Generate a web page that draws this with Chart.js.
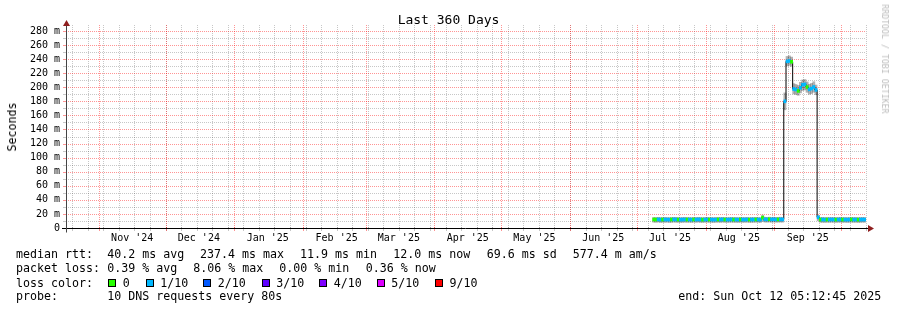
<!DOCTYPE html>
<html>
<head>
<meta charset="utf-8">
<script src="https://cdn.jsdelivr.net/npm/chart.js@4.4.1/dist/chart.umd.min.js"></script>
<style>
html,body{margin:0;padding:0;background:#fff;}
#wrap{position:relative;width:897px;height:310px;overflow:hidden;font-family:"DejaVu Sans Mono",monospace;color:#000;background:#fff;}
#c{position:absolute;left:0;top:0;}
.t{position:absolute;white-space:pre;font-size:11.63px;line-height:14px;}
.sw{position:absolute;width:8px;height:8px;box-sizing:border-box;border:1px solid #000;}
#title{position:absolute;left:0;width:897px;top:11.8px;text-align:center;font-size:13px;line-height:16px;white-space:pre;}
#ytitle{position:absolute;left:11.5px;top:127px;transform:translate(-50%,-50%) rotate(-90deg);font-size:11.63px;line-height:14px;white-space:pre;}
#wm{position:absolute;left:885px;top:59px;transform:translate(-50%,-50%) rotate(90deg);font-size:8.25px;line-height:10px;color:#bdbdbd;white-space:pre;}
</style>
</head>
<body>
<div id="wrap">
<canvas id="c" width="897" height="310"></canvas>
<div id="title">Last 360 Days</div>
<div id="ytitle">Seconds</div>
<div id="wm">RRDTOOL / TOBI OETIKER</div>
<div id="legend"></div>
</div>
<script>
// ---------------- data ----------------
const graphStartUTC = Date.UTC(2024, 9, 17, 5, 12, 45); // end (Oct 12 2025 05:12:45) minus 360 days
const spanDays = 360;
const firstBinDay = 264;   // first day-bin with data (early Jul '25), days after graph start

const medianMs = [
  12.1,12.0,12.2,11.9,12.0,12.1,12.0,11.9,12.0,12.2,
  12.1,12.0,11.9,12.0,12.1,12.0,12.0,11.9,12.1,12.0,
  12.2,12.0,11.9,12.0,12.1,12.0,12.0,11.9,12.0,12.1,
  12.0,12.2,12.0,11.9,12.0,12.1,12.0,12.0,11.9,12.1,
  12.0,12.0,12.1,11.9,12.0,12.0,12.1,12.0,11.9,
  14.7,
  12.3,12.2,12.4,12.2,12.3,12.1,12.2,12.3,12.2,
  180.0,
  236.8,237.4,236.2,
  197.5,196.8,194.9,199.2,203.6,204.1,200.3,197.0,198.2,200.4,196.3,
  15.2,
  12.0,12.1,11.9,12.0,12.0,12.1,12.0,11.9,12.0,12.1,12.0,12.0,11.9,12.0,12.1,12.0,12.0,11.9,12.0,12.1,12.0
];
const smokeLoMs = [
  8.2,8.0,8.4,7.9,8.1,8.0,8.2,7.8,8.0,8.3,
  8.1,8.0,7.9,8.0,8.2,8.0,8.1,7.9,8.2,8.0,
  8.3,8.0,7.9,8.1,8.2,8.0,8.0,7.8,8.1,8.2,
  8.0,8.3,8.0,7.9,8.1,8.2,8.0,8.0,7.9,8.2,
  8.0,8.1,8.2,7.9,8.0,8.0,8.2,8.1,7.9,
  9.5,
  8.4,8.3,8.5,8.2,8.4,8.2,8.3,8.4,8.3,
  168.0,
  230.5,231.2,229.8,
  190.5,189.8,188.6,192.0,195.4,196.2,192.8,190.1,191.0,192.9,189.4,
  10.2,
  8.1,8.0,7.9,8.1,8.0,8.2,8.0,7.9,8.1,8.2,8.0,8.1,7.9,8.0,8.2,8.0,8.1,7.9,8.0,8.2,8.1
];
const smokeHiMs = [
  15.0,14.8,15.2,14.9,15.0,15.1,14.9,14.8,15.0,15.2,
  15.1,14.9,14.8,15.0,15.1,15.0,14.9,14.8,15.1,15.0,
  15.2,15.0,14.8,15.0,15.1,14.9,15.0,14.8,15.0,15.1,
  15.0,15.2,14.9,14.8,15.0,15.1,15.0,14.9,14.8,15.1,
  15.0,14.9,15.1,14.8,15.0,15.0,15.1,14.9,14.8,
  18.3,
  15.3,15.2,15.4,15.1,15.3,15.1,15.2,15.3,15.2,
  192.0,
  243.8,244.6,242.9,
  205.2,204.0,202.6,207.1,210.4,211.0,207.6,204.3,205.5,207.9,203.2,
  17.5,
  15.0,15.1,14.9,15.0,15.0,15.1,15.0,14.9,15.0,15.1,15.0,15.0,14.9,15.0,15.1,15.0,15.0,14.9,15.0,15.1,15.0
];
// loss per 10 pings (index into lossColors)
const lossTenths = [
  0,0,1,1,0,1,1,1,0,1,
  1,0,1,1,1,0,1,1,0,1,
  1,1,0,1,1,0,1,1,1,0,
  1,1,0,1,1,1,0,1,1,0,
  1,1,1,0,1,1,0,1,1,
  0,
  1,1,0,1,1,1,0,1,1,
  1,
  1,1,0,
  1,1,0,1,1,1,0,1,1,1,1,
  1,
  0,1,1,0,1,1,1,0,1,1,0,1,1,1,0,1,1,0,1,1,1
];
const lossColors = ['#26ff00','#00b8ff','#0059ff','#5e00ff','#7e00ff','#dd00ff','#ff0000'];
const lossLabels = ['0','1/10','2/10','3/10','4/10','5/10','9/10'];

const monthStarts = ['2024-11-01','2024-12-01','2025-01-01','2025-02-01','2025-03-01','2025-04-01','2025-05-01','2025-06-01','2025-07-01','2025-08-01','2025-09-01','2025-10-01'];
const monthLabels = ["Nov '24","Dec '24","Jan '25","Feb '25","Mar '25","Apr '25","May '25","Jun '25","Jul '25","Aug '25","Sep '25","Oct '25"];
const firstSunday = '2024-10-20';

const yMajorMs = [0,20,40,60,80,100,120,140,160,180,200,220,240,260,280];
const yMajorLabels = ['0','20 m','40 m','60 m','80 m','100 m','120 m','140 m','160 m','180 m','200 m','220 m','240 m','260 m','280 m'];
const yMaxMs = 288.5;

const statsRtt = ['median rtt:','40.2 ms avg','237.4 ms max','11.9 ms min','12.0 ms now','69.6 ms sd','577.4 m am/s'];
const statsLoss = ['packet loss:','0.39 % avg','8.06 % max','0.00 % min','0.36 % now'];
const probeText = ['probe:','10 DNS requests every 80s'];
const endText = 'end: Sun Oct 12 05:12:45 2025';

// ---------------- helpers ----------------
const DAY = 86400000;
const dayOf = s => Math.round((Date.parse(s + 'T00:00:00Z') - graphStartUTC) / DAY * 1e6) / 1e6;
const MAJOR = 'rgba(255,0,0,0.42)';
const MINOR = 'rgba(0,0,0,0.22)';
const BAND = 2.1; // half-height of median colour swatch (ms)

// x grid: weekly (minor) and monthly (major); labels centred mid-month
const xGrid = [];
const sunday0 = dayOf(firstSunday);
for (let k = 0; sunday0 + 7 * k <= spanDays; k++) xGrid.push({value: sunday0 + 7 * k, major: false});
const xLabelTicks = [];
monthStarts.forEach((s, i) => {
  const d = dayOf(s);
  if (d >= 0 && d <= spanDays) xGrid.push({value: d, major: true});
  const mid = d + 15;
  if (mid >= 0 && mid <= spanDays) xLabelTicks.push({value: mid, text: monthLabels[i]});
});

const yGrid = [];
for (let v = 10; v <= 280; v += 10) yGrid.push({value: v, major: yMajorMs.indexOf(v) >= 0});

const binX = medianMs.map((_, i) => firstBinDay + i + 0.5);

// ---------------- legend (HTML text) ----------------
const lg = document.getElementById('legend');
function addText(txt, x, y) { const e = document.createElement('div'); e.className = 't'; e.style.left = x + 'px'; e.style.top = y + 'px'; e.textContent = txt; lg.appendChild(e); }
const rttX = [16, 107.3, 200, 300, 393.3, 486.7, 572.7];
statsRtt.forEach((t, i) => addText(t, rttX[i], 247.3));
const lossX = [16, 107.3, 193.3, 279.3, 365.7];
statsLoss.forEach((t, i) => addText(t, lossX[i], 261.3));
addText('loss color:', 16, 275.5);
const swX = [108.3, 145.7, 203.3, 261.7, 319.3, 376.7, 435];
lossLabels.forEach((t, i) => {
  const s = document.createElement('div'); s.className = 'sw'; s.style.left = swX[i] + 'px'; s.style.top = '278.5px'; s.style.background = lossColors[i]; lg.appendChild(s);
  addText(t, swX[i] + 14.5, 275.5);
});
addText(probeText[0], 16, 289);
addText(probeText[1], 107.3, 289);
addText(endText, 678.3, 289);

// ---------------- grid + axes plugin (uses the chart's scales) ----------------
const rrdPlugin = {
  id: 'rrdGridAxes',
  beforeDatasetsDraw(chart) {
    const {ctx, chartArea: a, scales: {x, y}} = chart;
    const y0 = Math.round(y.getPixelForValue(0));
    ctx.save();
    ctx.lineWidth = 1;
    // minor first, then major on top
    [false, true].forEach(maj => {
      ctx.strokeStyle = maj ? MAJOR : MINOR;
      ctx.setLineDash([1, 1]);
      ctx.beginPath();
      xGrid.filter(g => g.major === maj).forEach(g => {
        const px = Math.round(x.getPixelForValue(g.value)) + 0.5;
        ctx.moveTo(px, a.top); ctx.lineTo(px, y0);
      });
      yGrid.filter(g => g.major === maj).forEach(g => {
        const py = Math.round(y.getPixelForValue(g.value)) + 0.5;
        ctx.moveTo(a.left, py); ctx.lineTo(a.right, py);
      });
      ctx.stroke();
      // small tick marks on the axes
      ctx.setLineDash([]);
      ctx.beginPath();
      xGrid.filter(g => g.major === maj).forEach(g => {
        const px = Math.round(x.getPixelForValue(g.value)) + 0.5;
        ctx.moveTo(px, y0 - 1); ctx.lineTo(px, y0 + 3);
      });
      yGrid.filter(g => g.major === maj).forEach(g => {
        const py = Math.round(y.getPixelForValue(g.value)) + 0.5;
        ctx.moveTo(a.left - 3, py); ctx.lineTo(a.left + 1, py);
      });
      ctx.stroke();
    });
    ctx.restore();
  },
  afterDatasetsDraw(chart) {
    const {ctx, chartArea: a, scales: {x, y}} = chart;
    const y0 = Math.round(y.getPixelForValue(0)) + 0.5;
    const x0 = Math.round(x.getPixelForValue(0)) + 0.5;
    ctx.save();
    ctx.strokeStyle = '#000'; ctx.lineWidth = 1; ctx.setLineDash([]);
    ctx.beginPath(); ctx.moveTo(a.left - 4, y0); ctx.lineTo(a.right + 3, y0); ctx.stroke();
    ctx.strokeStyle = '#444';
    ctx.beginPath(); ctx.moveTo(x0, y0 + 4); ctx.lineTo(x0, a.top - 1); ctx.stroke();
    ctx.fillStyle = '#8f1f1f';
    ctx.beginPath(); ctx.moveTo(a.right + 2, y0 - 3.5); ctx.lineTo(a.right + 8, y0); ctx.lineTo(a.right + 2, y0 + 3.5); ctx.closePath(); ctx.fill();
    ctx.beginPath(); ctx.moveTo(x0 - 3.5, a.top + 1); ctx.lineTo(x0, a.top - 5); ctx.lineTo(x0 + 3.5, a.top + 1); ctx.closePath(); ctx.fill();
    ctx.restore();
  }
};

// ---------------- chart ----------------
const tickFont = {family: 'DejaVu Sans Mono', size: 10};
new Chart(document.getElementById('c'), {
  type: 'line',
  data: {
    datasets: [
      {
        type: 'bar', label: 'smoke', order: 3, stack: 'rrd',
        data: binX.map((x, i) => ({x: x, y: [smokeLoMs[i], smokeHiMs[i]]})),
        backgroundColor: 'rgba(0,0,0,0.3)', borderWidth: 0,
        barThickness: 'flex', barPercentage: 1, categoryPercentage: 1
      },
      {
        type: 'line', label: 'median', order: 2,
        data: binX.map((x, i) => ({x: x, y: medianMs[i]})),
        borderColor: '#000', borderWidth: 1, pointRadius: 0, stepped: 'middle', fill: false
      },
      {
        type: 'bar', label: 'loss', order: 1, stack: 'rrd',
        data: binX.map((x, i) => ({x: x, y: [medianMs[i] - BAND, medianMs[i] + BAND]})),
        backgroundColor: lossTenths.map(l => lossColors[l]), borderWidth: 0,
        barThickness: 'flex', barPercentage: 1, categoryPercentage: 1
      }
    ]
  },
  options: {
    responsive: false, animation: false, devicePixelRatio: 1, events: [],
    layout: {padding: {left: 0, right: 31, top: 25, bottom: 0}},
    plugins: {legend: {display: false}, tooltip: {enabled: false}, title: {display: false}},
    scales: {
      x: {
        type: 'linear', min: 0, max: spanDays, offset: false,
        afterBuildTicks: s => { s.ticks = xLabelTicks.map(t => ({value: t.value})); },
        afterFit: s => { s.height = 82; },
        grid: {display: false, drawTicks: false, offset: false},
        border: {display: false},
        ticks: {autoSkip: false, maxRotation: 0, minRotation: 0, padding: 4, font: tickFont, color: '#000',
          callback: (v, i) => (xLabelTicks[i] && xLabelTicks[i].text) || ''}
      },
      y: {
        type: 'linear', min: 0, max: yMaxMs, stacked: false,
        afterBuildTicks: s => { s.ticks = yMajorMs.map(v => ({value: v})); },
        afterFit: s => { s.width = 66; },
        grid: {display: false, drawTicks: false},
        border: {display: false},
        ticks: {autoSkip: false, padding: 6, font: tickFont, color: '#000',
          callback: (v, i) => yMajorLabels[i] || ''}
      }
    }
  },
  plugins: [rrdPlugin]
});
</script>
</body>
</html>
